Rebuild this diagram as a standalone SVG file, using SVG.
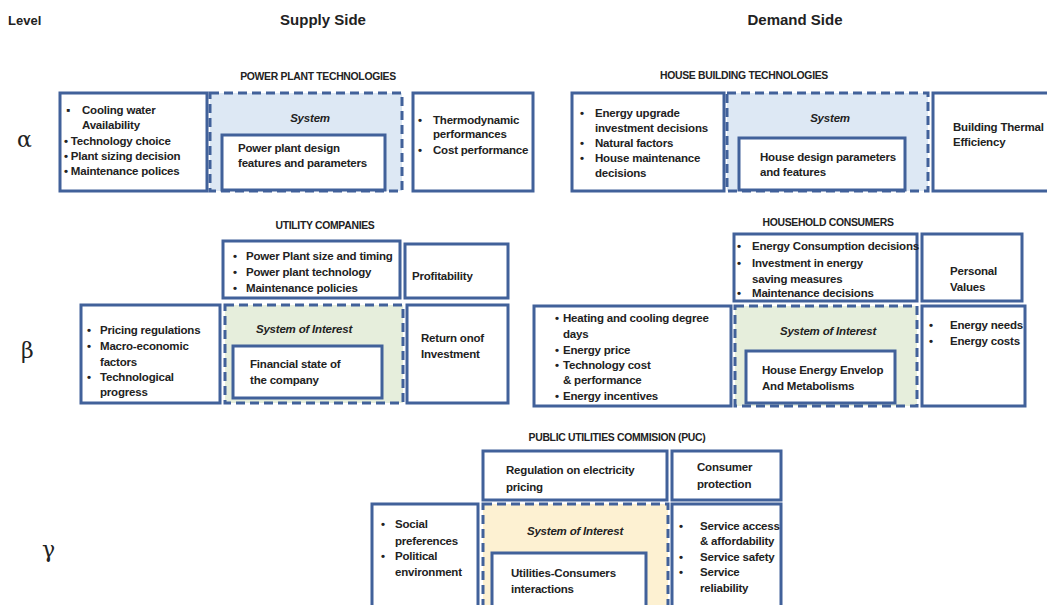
<svg xmlns="http://www.w3.org/2000/svg" width="1047" height="605" viewBox="0 0 1047 605">
  <style>
    text { font-family: "Liberation Sans", Arial, sans-serif; font-weight: bold; fill: #222; font-size: 11.5px; letter-spacing: -0.2px; }
    .head { font-size: 15px; letter-spacing: 0; }
    .lvl { font-size: 13px; letter-spacing: 0; }
    .greek { font-family: "DejaVu Serif", "Liberation Serif", serif; font-weight: normal; font-size: 22px; letter-spacing: 0; }
    .ttl { font-size: 10.4px; letter-spacing: -0.3px; text-anchor: middle; }
    .sys { font-style: italic; font-weight: bold; text-anchor: middle; }
    .box { fill: #fff; stroke: #41619a; stroke-width: 3; }
    .dash { stroke: #41619a; stroke-width: 3; stroke-dasharray: 9 5; }
    .blue { fill: #dde8f4; }
    .green { fill: #e6eedc; }
    .yellow { fill: #fdf1d2; }
  </style>

  <!-- headings -->
  <text x="8" y="25" class="lvl">Level</text>
  <text x="323" y="25" class="head" text-anchor="middle">Supply Side</text>
  <text x="795" y="25" class="head" text-anchor="middle">Demand Side</text>
  <text x="17" y="147" class="greek">α</text>
  <text x="21" y="358" class="greek">β</text>
  <text x="42" y="557" class="greek">γ</text>

  <!-- ALPHA, supply: power plant technologies -->
  <g id="power-plant-tech">
    <text x="318" y="80" class="ttl">POWER PLANT TECHNOLOGIES</text>
    <rect x="60" y="93" width="147" height="98" class="box"/>
    <text x="66" y="114">▪</text><text x="82" y="114">Cooling water</text>
    <text x="82" y="129">Availability</text>
    <text x="64" y="145">• Technology choice</text>
    <text x="64" y="160">• Plant sizing decision</text>
    <text x="64" y="175">• Maintenance polices</text>
    <rect x="210" y="93" width="192" height="98" class="dash blue"/>
    <text x="310" y="122" class="sys">System</text>
    <rect x="222" y="135" width="163" height="55" class="box"/>
    <text x="238" y="152">Power plant design</text>
    <text x="238" y="167">features and parameters</text>
    <rect x="413" y="93" width="120" height="98" class="box"/>
    <text x="418" y="124">•</text><text x="433" y="124">Thermodynamic</text>
    <text x="433" y="138">performances</text>
    <text x="418" y="154">•</text><text x="433" y="154">Cost performance</text>
  </g>

  <!-- ALPHA, demand: house building technologies -->
  <g id="house-building-tech">
    <text x="744" y="79" class="ttl">HOUSE BUILDING TECHNOLOGIES</text>
    <rect x="572" y="93" width="152" height="98" class="box"/>
    <text x="580" y="117">•</text><text x="595" y="117">Energy upgrade</text>
    <text x="595" y="132">investment decisions</text>
    <text x="580" y="147">•</text><text x="595" y="147">Natural factors</text>
    <text x="580" y="162">•</text><text x="595" y="162">House maintenance</text>
    <text x="595" y="177">decisions</text>
    <rect x="727" y="93" width="201" height="98" class="dash blue"/>
    <text x="830" y="122" class="sys">System</text>
    <rect x="739" y="138" width="166" height="52" class="box"/>
    <text x="760" y="161">House design parameters</text>
    <text x="760" y="176">and features</text>
    <rect x="933" y="93" width="120" height="98" class="box"/>
    <text x="953" y="131">Building Thermal</text>
    <text x="953" y="146">Efficiency</text>
  </g>

  <!-- BETA, supply: utility companies -->
  <g id="utility-companies">
    <text x="325" y="229" class="ttl">UTILITY COMPANIES</text>
    <rect x="223" y="241" width="177" height="57" class="box"/>
    <text x="233" y="260">•</text><text x="246" y="260">Power Plant size and timing</text>
    <text x="233" y="276">•</text><text x="246" y="276">Power plant technology</text>
    <text x="233" y="292">•</text><text x="246" y="292">Maintenance policies</text>
    <rect x="405" y="244" width="103" height="54" class="box"/>
    <text x="412" y="280">Profitability</text>
    <rect x="81" y="305" width="139" height="98" class="box"/>
    <text x="87" y="334">•</text><text x="100" y="334">Pricing regulations</text>
    <text x="87" y="350">•</text><text x="100" y="350">Macro-economic</text>
    <text x="100" y="366">factors</text>
    <text x="87" y="381">•</text><text x="100" y="381">Technological</text>
    <text x="100" y="396">progress</text>
    <rect x="225" y="305" width="178" height="98" class="dash green"/>
    <text x="304" y="333" class="sys">System of Interest</text>
    <rect x="233" y="346" width="149" height="52" class="box"/>
    <text x="250" y="368">Financial state of</text>
    <text x="250" y="384">the company</text>
    <rect x="407" y="305" width="101" height="98" class="box"/>
    <text x="421" y="342">Return onof</text>
    <text x="421" y="358">Investment</text>
  </g>

  <!-- BETA, demand: household consumers -->
  <g id="household-consumers">
    <text x="828" y="226" class="ttl">HOUSEHOLD CONSUMERS</text>
    <rect x="734" y="234" width="183" height="67" class="box"/>
    <text x="737" y="250">•</text><text x="752" y="250">Energy Consumption decisions</text>
    <text x="737" y="267">•</text><text x="752" y="267">Investment in energy</text>
    <text x="752" y="283">saving measures</text>
    <text x="737" y="297">•</text><text x="752" y="297">Maintenance decisions</text>
    <rect x="922" y="234" width="100" height="67" class="box"/>
    <text x="950" y="275">Personal</text>
    <text x="950" y="291">Values</text>
    <rect x="534" y="306" width="197" height="100" class="box"/>
    <text x="555" y="322">•</text><text x="563" y="322">Heating and cooling degree</text>
    <text x="563" y="338">days</text>
    <text x="555" y="354">•</text><text x="563" y="354">Energy price</text>
    <text x="555" y="369">•</text><text x="563" y="369">Technology cost</text>
    <text x="563" y="384">&amp; performance</text>
    <text x="555" y="400">•</text><text x="563" y="400">Energy incentives</text>
    <rect x="735" y="306" width="182" height="100" class="dash green"/>
    <text x="828" y="335" class="sys">System of Interest</text>
    <rect x="746" y="351" width="149" height="52" class="box"/>
    <text x="762" y="374">House Energy Envelop</text>
    <text x="762" y="390">And Metabolisms</text>
    <rect x="922" y="306" width="103" height="100" class="box"/>
    <text x="929" y="329">•</text><text x="950" y="329">Energy needs</text>
    <text x="929" y="345">•</text><text x="950" y="345">Energy costs</text>
  </g>

  <!-- GAMMA: public utilities commission -->
  <g id="puc">
    <text x="617" y="441" class="ttl">PUBLIC UTILITIES COMMISION (PUC)</text>
    <rect x="483" y="451" width="184" height="49" class="box"/>
    <text x="506" y="474">Regulation on electricity</text>
    <text x="506" y="491">pricing</text>
    <rect x="672" y="451" width="109" height="49" class="box"/>
    <text x="697" y="471">Consumer</text>
    <text x="697" y="488">protection</text>
    <rect x="372" y="504" width="106" height="105" class="box"/>
    <text x="381" y="528">•</text><text x="395" y="528">Social</text>
    <text x="395" y="545">preferences</text>
    <text x="381" y="560">•</text><text x="395" y="560">Political</text>
    <text x="395" y="576">environment</text>
    <rect x="483" y="504" width="185" height="105" class="dash yellow"/>
    <text x="575" y="535" class="sys">System of Interest</text>
    <rect x="492" y="553" width="154" height="56" class="box"/>
    <text x="511" y="577">Utilities-Consumers</text>
    <text x="511" y="593">interactions</text>
    <rect x="672" y="504" width="109" height="105" class="box"/>
    <text x="679" y="530">•</text><text x="700" y="530">Service access</text>
    <text x="700" y="545">&amp; affordability</text>
    <text x="679" y="561">•</text><text x="700" y="561">Service safety</text>
    <text x="679" y="576">•</text><text x="700" y="576">Service</text>
    <text x="700" y="592">reliability</text>
  </g>
</svg>
